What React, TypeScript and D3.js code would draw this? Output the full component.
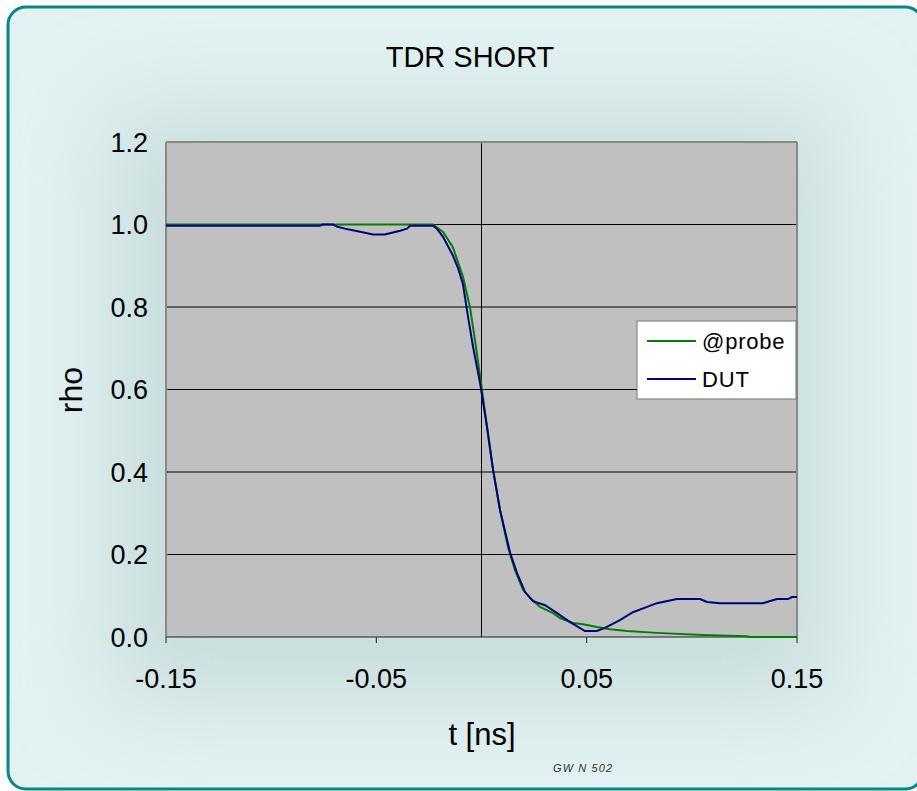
import React from "react";
import * as d3 from "d3";

const title = "TDR SHORT";
const xTicks = [-0.15, -0.05, 0.05, 0.15];
const yTicks = [0, 0.2, 0.4, 0.6, 0.8, 1.0, 1.2];
const seriesNames = ["@probe", "DUT"];
const seriesColors = ["#008000", "#000080"];

const probeT = [-0.15, -0.0231, -0.0183, -0.0136, -0.0088, -0.0055, -0.0031, 0.0002, 0.0026, 0.0055, 0.0088, 0.0126, 0.0159, 0.0197, 0.0231, 0.0278, 0.034, 0.0373, 0.0435, 0.0483, 0.0549, 0.0611, 0.0692, 0.0834, 0.1053, 0.1262, 0.1277, 0.15];
const probeRho = [1.0, 1.0, 0.982, 0.945, 0.873, 0.8, 0.72, 0.6, 0.51, 0.405, 0.308, 0.218, 0.162, 0.115, 0.095, 0.073, 0.058, 0.046, 0.034, 0.031, 0.024, 0.019, 0.0145, 0.01, 0.005, 0.002, 0, 0];

const dutT = [-0.15, -0.0768, -0.0755, -0.0706, -0.0687, -0.065, -0.06, -0.0554, -0.0516, -0.046, -0.0426, -0.0387, -0.0354, -0.034, -0.0231, -0.0212, -0.0183, -0.0136, -0.0112, -0.0088, -0.0064, -0.004, -0.0007, 0.0026, 0.0055, 0.0088, 0.0136, 0.0169, 0.0207, 0.0245, 0.0302, 0.0359, 0.0421, 0.0492, 0.0549, 0.0587, 0.0658, 0.072, 0.0787, 0.0834, 0.0929, 0.1039, 0.1072, 0.1134, 0.1338, 0.1357, 0.1405, 0.1457, 0.1476, 0.15];
const dutRho = [0.997, 0.997, 1.0, 1.0, 0.995, 0.99, 0.985, 0.98, 0.976, 0.976, 0.98, 0.985, 0.99, 0.997, 0.997, 0.99, 0.97, 0.925, 0.895, 0.855, 0.776, 0.703, 0.616, 0.51, 0.405, 0.308, 0.204, 0.155, 0.109, 0.087, 0.077, 0.058, 0.036, 0.0145, 0.0145, 0.022, 0.041, 0.06, 0.073, 0.082, 0.092, 0.092, 0.085, 0.082, 0.082, 0.085, 0.092, 0.092, 0.097, 0.097];

const W = 917;
const H = 791;
const plot = { left: 166, right: 797, top: 142, bottom: 637 };
const FONT = "'Liberation Sans', Arial, sans-serif";

export default function App() {
  const x = d3.scaleLinear().domain([-0.15, 0.15]).range([plot.left, plot.right]);
  const y = d3.scaleLinear().domain([0, 1.2]).range([plot.bottom, plot.top]);
  const line = d3
    .line<[number, number]>()
    .x((d) => x(d[0]))
    .y((d) => y(d[1]));
  const probe: [number, number][] = probeT.map((t, i) => [t, probeRho[i]]);
  const dut: [number, number][] = dutT.map((t, i) => [t, dutRho[i]]);

  return (
    <svg width={W} height={H} style={{ position: "absolute", left: 0, top: 0, background: "#fff" }} fontFamily={FONT}>
      <defs>
        <filter id="blur" x="-50%" y="-50%" width="200%" height="200%">
          <feGaussianBlur stdDeviation="45" />
        </filter>
        <clipPath id="frameClip">
          <rect x={8} y={7} width={915} height={782} rx={18} />
        </clipPath>
      </defs>
      <g clipPath="url(#frameClip)">
        <rect x={8} y={7} width={915} height={782} fill="#e2f1f1" />
        <rect x={110} y={110} width={720} height={590} fill="#c9dddd" filter="url(#blur)" />
      </g>
      <rect x={8} y={7} width={915} height={782} rx={18} fill="none" stroke="#0a8585" strokeWidth={3} />

      <text x={470} y={67} textAnchor="middle" fontSize={29} fill="#000">
        {title}
      </text>

      {/* plot area */}
      <rect x={plot.left} y={plot.top} width={plot.right - plot.left} height={plot.bottom - plot.top} fill="#c0c0c0" />
      {yTicks.filter((v) => v > 0 && v < 1.2).map((v) => (
        <line key={v} x1={plot.left} x2={plot.right} y1={y(v)} y2={y(v)} stroke="#000" strokeWidth={1} />
      ))}
      <line x1={x(0)} x2={x(0)} y1={plot.top} y2={plot.bottom} stroke="#000" strokeWidth={1} />
      <line x1={plot.left} x2={plot.right} y1={plot.top} y2={plot.top} stroke="#888" strokeWidth={2} />
      <line x1={plot.left} x2={plot.left} y1={plot.top} y2={plot.bottom} stroke="#888" strokeWidth={2} />
      <line x1={plot.right} x2={plot.right} y1={plot.top} y2={plot.bottom} stroke="#888" strokeWidth={2} />
      <line x1={plot.left} x2={plot.right} y1={plot.bottom} y2={plot.bottom} stroke="#222" strokeWidth={1} />
      {xTicks.map((v) => (
        <line key={v} x1={x(v)} x2={x(v)} y1={plot.bottom} y2={plot.bottom + 6} stroke="#222" strokeWidth={1} />
      ))}

      <path d={line(probe) || ""} fill="none" stroke={seriesColors[0]} strokeWidth={2} />
      <path d={line(dut) || ""} fill="none" stroke={seriesColors[1]} strokeWidth={2} />

      {yTicks.map((v) => (
        <text key={v} x={148} y={y(v) + 9.5} textAnchor="end" fontSize={27} fill="#000">
          {v.toFixed(1)}
        </text>
      ))}
      {xTicks.map((v) => (
        <text key={v} x={x(v)} y={688} textAnchor="middle" fontSize={27} fill="#000">
          {v.toFixed(2)}
        </text>
      ))}

      <text x={482} y={745} textAnchor="middle" fontSize={31} fill="#000">
        t [ns]
      </text>
      <text transform={`translate(82,390) rotate(-90)`} textAnchor="middle" fontSize={32} fill="#000">
        rho
      </text>

      {/* legend */}
      <rect x={637} y={321} width={159} height={78} fill="#fff" stroke="#777" strokeWidth={1} />
      {seriesNames.map((n, i) => (
        <g key={n}>
          <line x1={647} x2={696} y1={341 + i * 38} y2={341 + i * 38} stroke={seriesColors[i]} strokeWidth={2} />
          <text x={702} y={349 + i * 38} fontSize={22} fill="#000" letterSpacing={0.8}>
            {n}
          </text>
        </g>
      ))}

      <text x={553} y={772} fontSize={11} fontStyle="italic" fill="#333" letterSpacing={1.1}>
        GW N 502
      </text>
    </svg>
  );
}
